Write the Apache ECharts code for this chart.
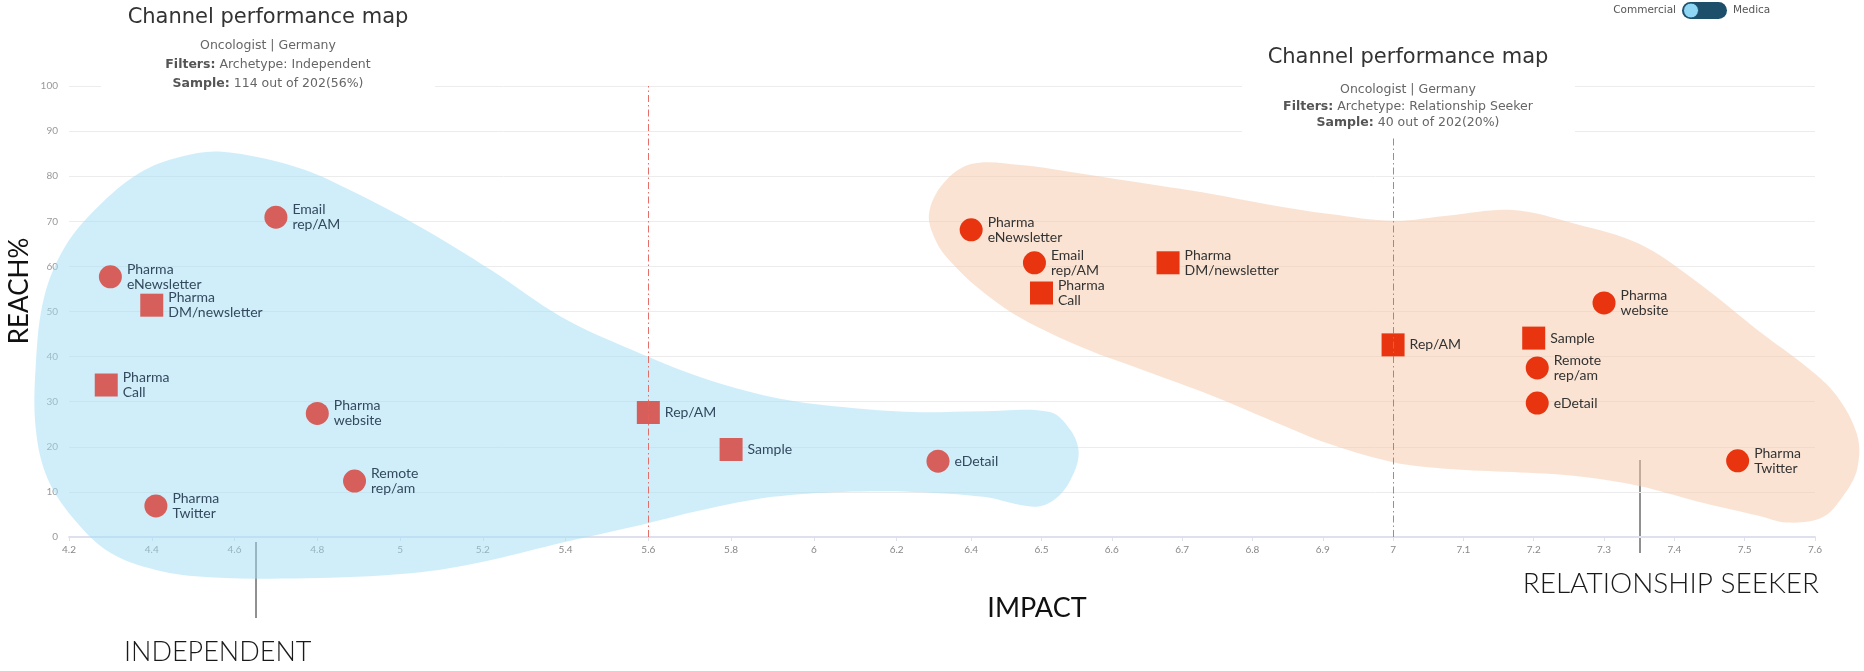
<!DOCTYPE html>
<html>
<head>
<meta charset="utf-8">
<title>Channel performance map</title>
<script src="https://cdn.jsdelivr.net/npm/echarts@6/dist/echarts.min.js"></script>
<style>
  html, body { margin: 0; padding: 0; background: #fff; }
  #chart { width: 1864px; height: 671px; }
</style>
</head>
<body>
<div id="chart"></div>
<script>
// x tick labels (the two maps have different impact scales)
const indepTicks = [4.2, 4.4, 4.6, 4.8, 5, 5.2, 5.4, 5.6, 5.8, 6, 6.2];
const seekerTicks = [6.4, 6.5, 6.6, 6.7, 6.8, 6.9, 7, 7.1, 7.2, 7.3, 7.4, 7.5, 7.6];

// Archetype: Independent
const indepLabels = ['Email\nrep/AM', 'Pharma\neNewsletter', 'Pharma\nDM/newsletter', 'Pharma\nCall', 'Pharma\nwebsite',
  'Remote\nrep/am', 'Pharma\nTwitter', 'Rep/AM', 'Sample', 'eDetail'];
const indepImpact = [4.7, 4.3, 4.4, 4.29, 4.8, 4.89, 4.41, 5.6, 5.8, 6.3];
const indepReach = [70.9, 57.7, 51.4, 33.7, 27.4, 12.4, 6.9, 27.6, 19.4, 16.8];
const indepShape = ['circle', 'circle', 'rect', 'rect', 'circle', 'circle', 'circle', 'rect', 'rect', 'circle'];

// Archetype: Relationship Seeker
const seekerLabels = ['Pharma\neNewsletter', 'Email\nrep/AM', 'Pharma\nCall', 'Pharma\nDM/newsletter', 'Rep/AM',
  'Sample', 'Pharma\nwebsite', 'Remote\nrep/am', 'eDetail', 'Pharma\nTwitter'];
const seekerImpact = [6.4, 6.49, 6.5, 6.68, 7.0, 7.2, 7.3, 7.205, 7.205, 7.49];
const seekerReach = [68.1, 60.8, 54.1, 60.8, 42.6, 44.1, 51.9, 37.5, 29.7, 16.9];
const seekerShape = ['circle', 'circle', 'rect', 'rect', 'rect', 'rect', 'circle', 'circle', 'circle', 'circle'];

// average lines
const indepRefLine = 5.6;
const seekerRefLine = 7.0;

// cluster outlines [impact, reach]
const indepBlob = [[4.57, 85.4], [4.75, 82.0], [4.88, 76.9], [5.05, 68.7], [5.22, 59.2], [5.39, 48.8], [5.56, 41.5],
  [5.73, 35.3], [5.9, 31.0], [6.07, 28.8], [6.24, 27.7], [6.41, 27.9], [6.57, 27.7], [6.62, 23.7], [6.64, 18.6],
  [6.62, 12.6], [6.58, 8.2], [6.53, 6.7], [6.41, 8.9], [6.24, 10.0], [6.07, 10.0], [5.9, 8.9], [5.73, 6.0],
  [5.56, 2.2], [5.39, -1.3], [5.22, -5.1], [5.05, -7.8], [4.8, -9.1], [4.54, -8.9], [4.41, -7.3], [4.3, -3.5],
  [4.22, 3.1], [4.15, 12.6], [4.12, 23.7], [4.12, 38.6], [4.14, 53.2], [4.19, 64.3], [4.27, 73.2], [4.37, 80.7],
  [4.47, 84.3]];
const seekerBlob = [[6.4, 82.7], [6.47, 82.5], [6.56, 80.5], [6.65, 78.3], [6.74, 76.1], [6.82, 73.8], [6.91, 71.6],
  [7.0, 70.1], [7.08, 71.3], [7.17, 72.5], [7.26, 69.4], [7.35, 65.0], [7.43, 56.8], [7.52, 45.7], [7.59, 37.5],
  [7.63, 31.5], [7.66, 22.6], [7.66, 15.1], [7.64, 9.1], [7.61, 4.3], [7.56, 3.2], [7.52, 4.7], [7.43, 8.0],
  [7.35, 11.3], [7.26, 13.5], [7.17, 14.4], [7.08, 15.1], [7.0, 16.6], [6.91, 20.6], [6.82, 26.3], [6.74, 31.5],
  [6.65, 36.7], [6.56, 41.9], [6.47, 48.6], [6.41, 55.2], [6.37, 61.2], [6.35, 65.6], [6.34, 71.6], [6.36, 78.3]];

const chart = echarts.init(document.getElementById('chart'));

function points(labels, xs, ys, shapes) {
  return labels.map((l, i) => ({ name: l, value: [xs[i], ys[i]], symbol: shapes[i] }));
}

function blobSeries(outline, idx, fill) {
  return {
    type: 'custom',
    xAxisIndex: idx,
    yAxisIndex: idx,
    clip: false,
    silent: true,
    z: 1,
    data: [outline[0]],
    renderItem: (params, api) => ({
      type: 'polygon',
      shape: { points: outline.map(p => api.coord(p)), smooth: 0.35 },
      style: { fill: fill }
    })
  };
}

function refLine(x) {
  return {
    silent: true,
    symbol: 'none',
    label: { show: false },
    lineStyle: { color: '#e2605a', type: [7, 3, 1.5, 3], width: 1, opacity: 0.9 },
    data: [{ xAxis: x }]
  };
}

const labelFont = 'Lato';
const subFont = '"DejaVu Sans", sans-serif';

function titleBlock(cx, top, firstGap, lineGap, boxX, boxY, boxW, boxH, filter, sample) {
  const sub = { fontFamily: subFont, fontSize: 12.5, fill: '#666', align: 'center', verticalAlign: 'middle',
    rich: { b: { fontFamily: subFont, fontSize: 12.5, fontWeight: 'bold', fill: '#555' } } };
  return {
    type: 'group',
    children: [
      { type: 'rect', z: 10, shape: { x: boxX, y: boxY, width: boxW, height: boxH }, style: { fill: '#fff' } },
      { type: 'text', z: 11, x: cx, y: top, style: { text: 'Channel performance map', fontFamily: subFont, fontSize: 21,
        fill: '#333', align: 'center', verticalAlign: 'middle' } },
      { type: 'text', z: 11, x: cx, y: top + firstGap, style: Object.assign({ text: 'Oncologist | Germany' }, sub) },
      { type: 'text', z: 11, x: cx, y: top + firstGap + lineGap, style: Object.assign({ text: '{b|Filters:} Archetype: ' + filter }, sub) },
      { type: 'text', z: 11, x: cx, y: top + firstGap + lineGap * 2, style: Object.assign({ text: '{b|Sample:} ' + sample }, sub) }
    ]
  };
}

const option = {
  animation: false,
  grid: [
    { left: 69, top: 86, width: 869, height: 451 },
    { left: 936, top: 86, width: 879, height: 451 }
  ],
  xAxis: [
    {
      type: 'value', gridIndex: 0, min: 4.2, max: 6.3,
      axisLine: { lineStyle: { color: '#dfe0ee', width: 2 } },
      axisTick: { show: true, length: 4, customValues: indepTicks, lineStyle: { color: '#dfe0ee' } },
      axisLabel: { customValues: indepTicks, fontSize: 10, color: '#888', margin: 8, fontFamily: labelFont },
      splitLine: { show: false }
    },
    {
      type: 'value', gridIndex: 1, min: 6.35, max: 7.6,
      axisLine: { lineStyle: { color: '#dfe0ee', width: 2 } },
      axisTick: { show: true, length: 4, customValues: seekerTicks, lineStyle: { color: '#dfe0ee' } },
      axisLabel: { customValues: seekerTicks, fontSize: 10, color: '#888', margin: 8, fontFamily: labelFont },
      splitLine: { show: false }
    }
  ],
  yAxis: [
    {
      type: 'value', gridIndex: 0, min: 0, max: 100, interval: 10,
      axisLine: { show: false }, axisTick: { show: false },
      axisLabel: { fontSize: 10, color: '#999', margin: 11, fontFamily: labelFont },
      splitLine: { lineStyle: { color: '#ececec' } }
    },
    {
      type: 'value', gridIndex: 1, min: 0, max: 100, interval: 10,
      axisLine: { show: false }, axisTick: { show: false },
      axisLabel: { show: false },
      splitLine: { lineStyle: { color: '#ececec' } }
    }
  ],
  series: [
    blobSeries(indepBlob, 0, 'rgba(160,222,246,0.5)'),
    blobSeries(seekerBlob, 1, 'rgba(246,200,168,0.5)'),
    {
      name: 'Independent',
      type: 'scatter', xAxisIndex: 0, yAxisIndex: 0, z: 3,
      symbolSize: 23,
      itemStyle: { color: '#d65f5b', opacity: 1 },
      label: { show: true, position: 'right', distance: 5, formatter: p => p.name,
        fontFamily: labelFont, fontSize: 14, lineHeight: 15, color: '#34495e' },
      markLine: refLine(indepRefLine),
      data: points(indepLabels, indepImpact, indepReach, indepShape)
    },
    {
      name: 'Relationship Seeker',
      type: 'scatter', xAxisIndex: 1, yAxisIndex: 1, z: 3,
      symbolSize: 23,
      itemStyle: { color: '#e8340f', opacity: 1 },
      label: { show: true, position: 'right', distance: 5, formatter: p => p.name,
        fontFamily: labelFont, fontSize: 14, lineHeight: 15, color: '#333' },
      markLine: refLine(seekerRefLine),
      data: points(seekerLabels, seekerImpact, seekerReach, seekerShape)
    }
  ],
  graphic: [
    titleBlock(268, 18, 28, 19, 101, 0, 334, 96, 'Independent', '114 out of 202(56%)'),
    titleBlock(1408, 58, 32, 16.5, 1242, 38, 333, 98, 'Relationship Seeker', '40 out of 202(20%)'),
    // toggle
    { type: 'text', x: 1676, y: 10, z: 11, style: { text: 'Commercial', fontFamily: subFont, fontSize: 10.5, fill: '#555',
      align: 'right', verticalAlign: 'middle' } },
    { type: 'rect', z: 11, shape: { x: 1682, y: 2, width: 45, height: 17, r: 8.5 }, style: { fill: '#1d4f6b' } },
    { type: 'circle', z: 12, shape: { cx: 1691, cy: 10.5, r: 7.5 }, style: { fill: '#8fd6f4', stroke: '#1d4f6b', lineWidth: 1 } },
    { type: 'text', x: 1733, y: 10, z: 11, style: { text: 'Medica', fontFamily: subFont, fontSize: 10.5, fill: '#555',
      verticalAlign: 'middle' } },
    // axis names
    { type: 'text', x: 20, y: 291, rotation: Math.PI / 2, style: { text: 'REACH%', fontFamily: labelFont, fontSize: 26,
      fill: '#111', align: 'center', verticalAlign: 'middle' } },
    { type: 'text', x: 1037, y: 608, style: { text: 'IMPACT', fontFamily: labelFont, fontSize: 27,
      fill: '#111', align: 'center', verticalAlign: 'middle' } },
    // archetype callouts
    { type: 'line', shape: { x1: 256, y1: 542, x2: 256, y2: 618 }, style: { stroke: '#222', lineWidth: 1 } },
    { type: 'text', x: 124, y: 652, style: { text: 'INDEPENDENT', fontFamily: labelFont, fontWeight: 300, fontSize: 27,
      fill: '#1a1a1a', verticalAlign: 'middle' } },
    { type: 'line', shape: { x1: 1640, y1: 460, x2: 1640, y2: 553 }, style: { stroke: '#222', lineWidth: 1 } },
    { type: 'text', x: 1819, y: 584, style: { text: 'RELATIONSHIP SEEKER', fontFamily: labelFont, fontWeight: 300, fontSize: 28,
      fill: '#1a1a1a', align: 'right', verticalAlign: 'middle' } }
  ]
};

chart.setOption(option);
</script>
</body>
</html>
